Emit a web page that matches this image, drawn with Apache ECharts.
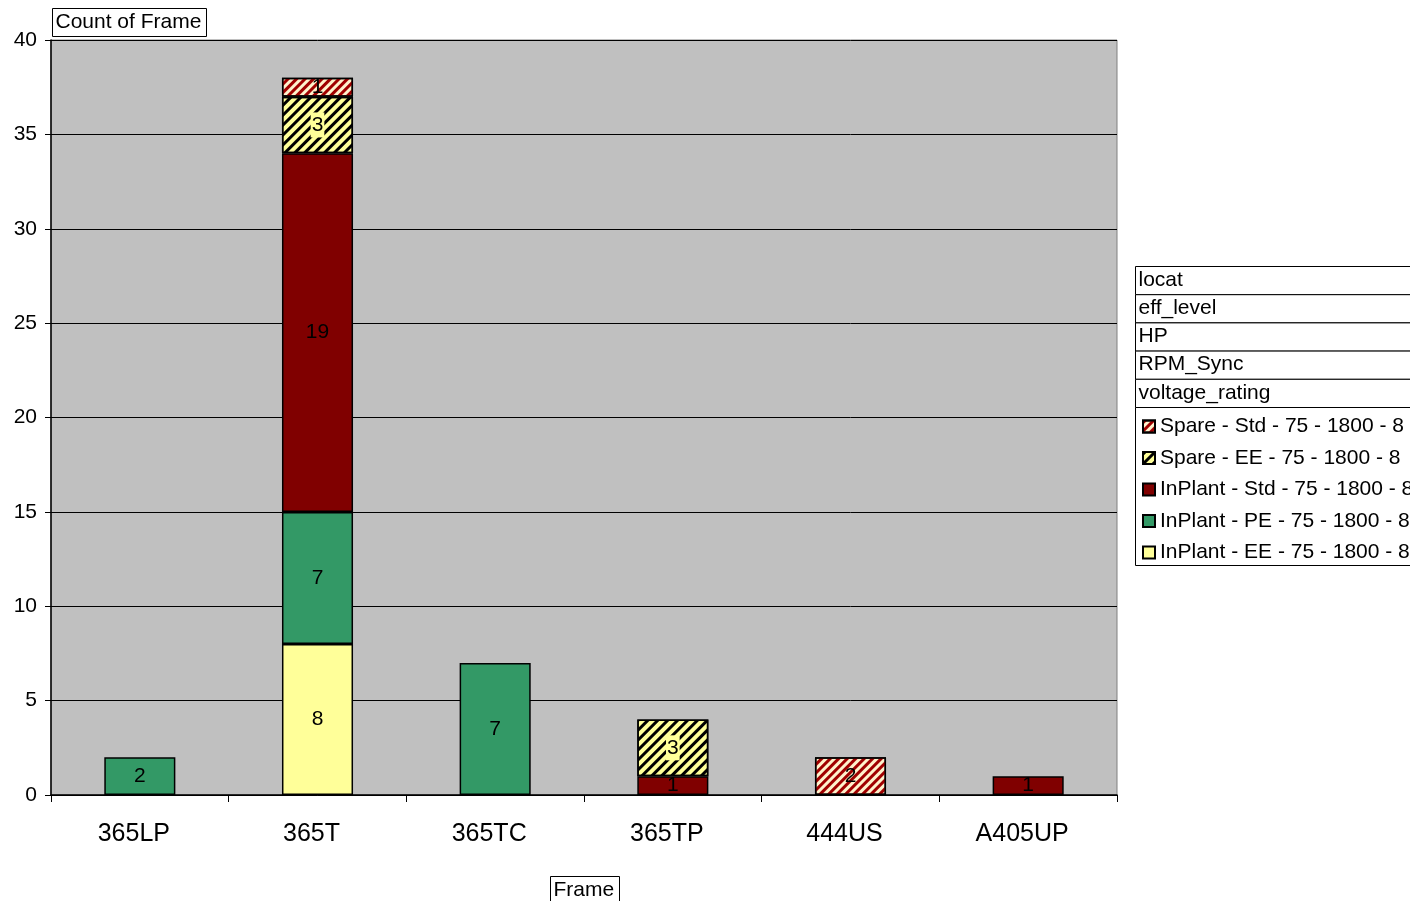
<!DOCTYPE html>
<html>
<head>
<meta charset="utf-8">
<script src="https://cdn.jsdelivr.net/npm/echarts@6/dist/echarts.min.js"></script>
<style>
  html, body { margin: 0; padding: 0; background: #fff; }
  #chart { width: 1410px; height: 901px; }
</style>
</head>
<body>
<div id="chart"></div>
<script>
// categories on the x axis
const frames = ['365LP', '365T', '365TC', '365TP', '444US', 'A405UP']
// stacked series, bottom to top
const inPlantEE = [null, 8, null, null, null, null]
const inPlantPE = [2, 7, 7, null, null, null]
const inPlantStd = [null, 19, null, 1, null, 1]
const spareEE = [null, 3, null, 3, null, null]
const spareStd = [null, 1, null, null, 2, null]
const seriesNames = [
  'InPlant - EE - 75 - 1800 - 8',
  'InPlant - PE - 75 - 1800 - 8',
  'InPlant - Std - 75 - 1800 - 8',
  'Spare - EE - 75 - 1800 - 8',
  'Spare - Std - 75 - 1800 - 8'
]
const headerRows = ['locat', 'eff_level', 'HP', 'RPM_Sync', 'voltage_rating']

const chart = echarts.init(document.getElementById('chart'))
const font = 'Liberation Sans, Arial, sans-serif'

function barSeries (name, data, color, decal, labelBg) {
  const itemStyle = { color: color, borderColor: '#000', borderWidth: 1.5 }
  if (decal) itemStyle.decal = decal
  return {
    name: name,
    type: 'bar',
    stack: 'total',
    barWidth: '40%',
    data: data,
    itemStyle: itemStyle,
    label: {
      show: true,
      position: 'inside',
      color: '#000',
      fontSize: 21,
      fontFamily: font,
      backgroundColor: labelBg || 'transparent',
      padding: labelBg ? [2, 1] : 0
    },
    emphasis: { disabled: true }
  }
}

const header = headerRows.map((t, i) => ({
  type: 'group',
  left: 1135,
  top: 266 + i * 28.2,
  children: [
    { type: 'rect', shape: { x: 0, y: 0, width: 300, height: 28.2 }, style: { fill: '#fff', stroke: '#000', lineWidth: 1 } },
    { type: 'text', x: 3, y: 3, style: { text: t, font: '21px ' + font, fill: '#000' } }
  ]
}))

chart.setOption({
  backgroundColor: '#fff',
  animation: false,
  grid: { left: 51, top: 40, width: 1066, height: 755, show: true, backgroundColor: '#C0C0C0', borderColor: '#808080', borderWidth: 1 },
  xAxis: {
    type: 'category',
    data: frames,
    axisLine: { lineStyle: { color: '#000', width: 1.5 } },
    axisTick: { show: true, length: 7, lineStyle: { color: '#000' } },
    axisLabel: { color: '#000', fontSize: 25, fontFamily: font, margin: 27, padding: [0, 12, 0, 0] }
  },
  yAxis: {
    type: 'value',
    min: 0,
    max: 40,
    interval: 5,
    axisLine: { show: true, lineStyle: { color: '#000', width: 1.5 } },
    axisTick: { show: true, length: 6, lineStyle: { color: '#000' } },
    axisLabel: { color: '#000', fontSize: 21, fontFamily: font, margin: 14 },
    splitLine: { lineStyle: { color: '#000', width: 1 } }
  },
  legend: {
    orient: 'vertical',
    left: 1137,
    top: 411,
    itemWidth: 12,
    itemHeight: 12,
    itemGap: 10.5,
    icon: 'rect',
    data: seriesNames.slice().reverse(),
    textStyle: { color: '#000', fontSize: 21, fontFamily: font },
    z: 10
  },
  graphic: header.concat([
    {
      type: 'rect', left: 1135, top: 407, z: 1,
      shape: { x: 0, y: 0, width: 300, height: 158 },
      style: { fill: '#fff', stroke: '#000', lineWidth: 1 }
    },
    {
      type: 'group', left: 52, top: 8,
      children: [
        { type: 'rect', shape: { x: 0, y: 0, width: 154, height: 28 }, style: { fill: '#fff', stroke: '#000', lineWidth: 1 } },
        { type: 'text', x: 3, y: 3, style: { text: 'Count of Frame', font: '21px ' + font, fill: '#000' } }
      ]
    },
    {
      type: 'group', left: 550, top: 876,
      children: [
        { type: 'rect', shape: { x: 0, y: 0, width: 69, height: 30 }, style: { fill: '#fff', stroke: '#000', lineWidth: 1 } },
        { type: 'text', x: 3, y: 3, style: { text: 'Frame', font: '21px ' + font, fill: '#000' } }
      ]
    }
  ]),
  series: [
    barSeries(seriesNames[0], inPlantEE, '#FFFF99'),
    barSeries(seriesNames[1], inPlantPE, '#339966'),
    barSeries(seriesNames[2], inPlantStd, '#800000'),
    barSeries(seriesNames[3], spareEE, '#FFFF99',
      { symbol: 'rect', dashArrayX: [1, 0], dashArrayY: [3, 4], rotation: -Math.PI / 4, color: '#000' }, '#FFFF99'),
    barSeries(seriesNames[4], spareStd, '#FFF2CC',
      { symbol: 'rect', dashArrayX: [1, 0], dashArrayY: [3, 3], rotation: -Math.PI / 4, color: '#A00000' })
  ]
})
</script>
</body>
</html>
